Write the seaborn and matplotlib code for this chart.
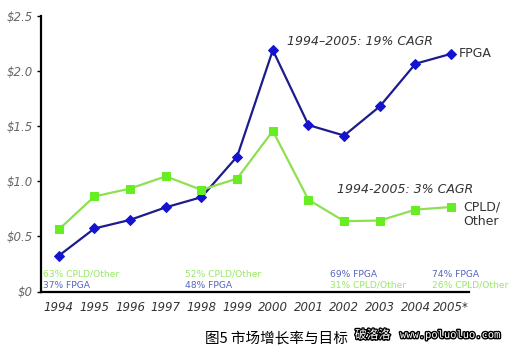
import matplotlib
matplotlib.use("Agg")
import matplotlib.pyplot as plt
import matplotlib.patheffects as pe
import seaborn as sns
import pandas as pd
import numpy as np

years = ["1994", "1995", "1996", "1997", "1998", "1999", "2000", "2001", "2002", "2003", "2004", "2005*"]
fpga = [0.325, 0.572, 0.65, 0.764, 0.856, 1.225, 2.19, 1.51, 1.415, 1.68, 2.067, 2.157]
cpld = [0.563, 0.863, 0.934, 1.045, 0.922, 1.025, 1.457, 0.832, 0.638, 0.644, 0.743, 0.767]
y_ticks = [0, 0.5, 1.0, 1.5, 2.0, 2.5]
y_labels = ["$0", "$0.5", "$1.0", "$1.5", "$2.0", "$2.5"]
share_years = ["1994", "1998", "2002", "2005*"]
share_fpga = ["37% FPGA", "48% FPGA", "69% FPGA", "74% FPGA"]
share_cpld = ["63% CPLD/Other", "52% CPLD/Other", "31% CPLD/Other", "26% CPLD/Other"]

sns.set_theme(style="white")
plt.rcParams["font.family"] = ["DejaVu Sans", "Noto Sans CJK SC"]

df = pd.DataFrame({"idx": np.arange(len(years)), "FPGA": fpga, "CPLD": cpld})

fig = plt.figure(figsize=(5.2, 3.54), dpi=100)
ax = fig.add_axes([41 / 520, 1 - 291.5 / 354, 428 / 520, (291.5 - 16) / 354])

sns.lineplot(data=df, x="idx", y="FPGA", ax=ax, color="#1c1c8a", lw=1.6,
             marker="D", markersize=5, markerfacecolor="#1414d0", markeredgecolor="#1414d0")
sns.lineplot(data=df, x="idx", y="CPLD", ax=ax, color="#8ee050", lw=1.6,
             marker="s", markersize=6, markerfacecolor="#66ee22", markeredgecolor="#66ee22")

ax.set_xlim(-0.5, len(years) - 0.5)
ax.set_ylim(0, 2.5)
ax.set_xticks(np.arange(len(years)))
ax.set_xticklabels(years, style="italic", color="#333333", fontsize=8.5)
ax.set_xticks(np.arange(len(years) + 1) - 0.5, minor=True)
ax.tick_params(axis="x", which="major", length=0, pad=7)
ax.tick_params(axis="x", which="minor", length=3, width=1, color="black", direction="out")
ax.set_yticks(y_ticks)
ax.set_yticklabels(y_labels, style="italic", color="#666666", fontsize=8.5)
ax.tick_params(axis="y", length=3, width=1, color="black", direction="out", left=True, pad=3)
ax.set_xlabel("")
ax.set_ylabel("")
for s in ["top", "right"]:
    ax.spines[s].set_visible(False)
for s in ["left", "bottom"]:
    ax.spines[s].set_color("black")
    ax.spines[s].set_linewidth(1.6)

# annotations
ax.text(6.4, 2.27, "1994–2005: 19% CAGR", style="italic", fontsize=9, color="#333333", va="center")
ax.text(11.2, 2.157, "FPGA", fontsize=9, color="#333333", va="center")
ax.text(7.8, 0.93, "1994-2005: 3% CAGR", style="italic", fontsize=9, color="#333333", va="center")
ax.text(11.35, 0.70, "CPLD/\nOther", fontsize=9, color="#333333", va="center", linespacing=1.2)

share_x = {"1994": -0.45, "1998": 3.55, "2002": 7.6, "2005*": 10.45}
for i, yr in enumerate(share_years):
    x0 = share_x[yr]
    if i < 2:
        top_txt, top_col, bot_txt, bot_col = share_cpld[i], "#99e866", share_fpga[i], "#5566bb"
    else:
        top_txt, top_col, bot_txt, bot_col = share_fpga[i], "#5566bb", share_cpld[i], "#99e866"
    ax.text(x0, 0.155, top_txt, fontsize=6.6, color=top_col, va="center")
    ax.text(x0, 0.055, bot_txt, fontsize=6.6, color=bot_col, va="center")

fig.text(205 / 520, 1 - 338 / 354, "图5 市场增长率与目标", fontsize=10.5,
         family=["Noto Sans CJK SC", "DejaVu Sans"], color="black", va="center")
wm = [pe.withStroke(linewidth=2, foreground="black")]
fig.text(355 / 520, 1 - 335 / 354, "破洛洛", fontsize=8.5, family=["Noto Sans CJK SC"],
         color="white", va="center", path_effects=wm)
fig.text(400 / 520, 1 - 335 / 354, "www.poluoluo.com", fontsize=7.5, family=["DejaVu Sans Mono"],
         color="white", va="center", path_effects=wm)

fig.savefig("out.png", dpi=100)
